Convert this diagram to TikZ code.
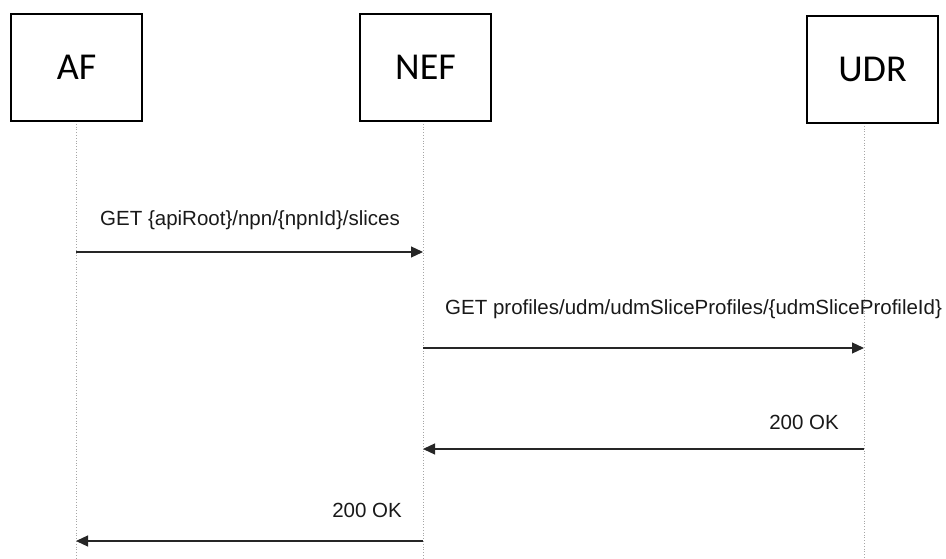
\documentclass[tikz,border=0pt]{standalone}
\usepackage{fontspec}
\setmainfont{Liberation Sans}
\newfontfamily\boxfont{Carlito}
\usetikzlibrary{arrows.meta}
\begin{document}
\begin{tikzpicture}[x=1pt,y=-1pt,
  entity/.style={draw=black,line width=1.6pt,fill=white,minimum width=131pt,inner sep=0pt,font=\boxfont\fontsize{38}{40}\selectfont},
  lifeline/.style={draw=black!35,line width=0.8pt,dotted},
  msg/.style={draw=black!85,line width=1.2pt,-{Triangle[length=12pt,width=11pt]}},
  lbl/.style={font=\fontsize{20.5}{23}\selectfont,text=black!90,inner sep=0pt}]
\useasboundingbox (0,0) rectangle (946,559);
% lifelines
\coordinate (afT) at (76,121); \coordinate (afB) at (76,559);
\coordinate (nefT) at (423,121); \coordinate (nefB) at (423,559);
\coordinate (udrT) at (864,123); \coordinate (udrB) at (864,559);
\draw[lifeline] (afT) -- (afB);
\draw[lifeline] (nefT) -- (nefB);
\draw[lifeline] (udrT) -- (udrB);
% entities
\node[entity,minimum height=107pt] (af) at (76.5,67.5) {AF};
\node[entity,minimum height=107pt] (nef) at (425.5,67.5) {NEF};
\node[entity,minimum height=107pt] (udr) at (872.5,69.5) {UDR};
% messages
\coordinate (m1a) at (76,252); \coordinate (m1b) at (423,252);
\coordinate (m2a) at (423,348); \coordinate (m2b) at (864,348);
\coordinate (m3a) at (864,449); \coordinate (m3b) at (423,449);
\coordinate (m4a) at (423,541); \coordinate (m4b) at (76,541);
\draw[msg] (m1a) -- (m1b);
\draw[msg] (m2a) -- (m2b);
\draw[msg] (m3a) -- (m3b);
\draw[msg] (m4a) -- (m4b);
\node[lbl,anchor=west] (l1) at (100,220) {GET \{apiRoot\}/npn/\{npnId\}/slices};
\node[lbl,anchor=west] (l2) at (445,309) {GET profiles/udm/udmSliceProfiles/\{udmSliceProfileId\}};
\node[lbl,anchor=east] (l3) at (839,422) {200 OK};
\node[lbl,anchor=east] (l4) at (402,510) {200 OK};
\end{tikzpicture}
\end{document}
